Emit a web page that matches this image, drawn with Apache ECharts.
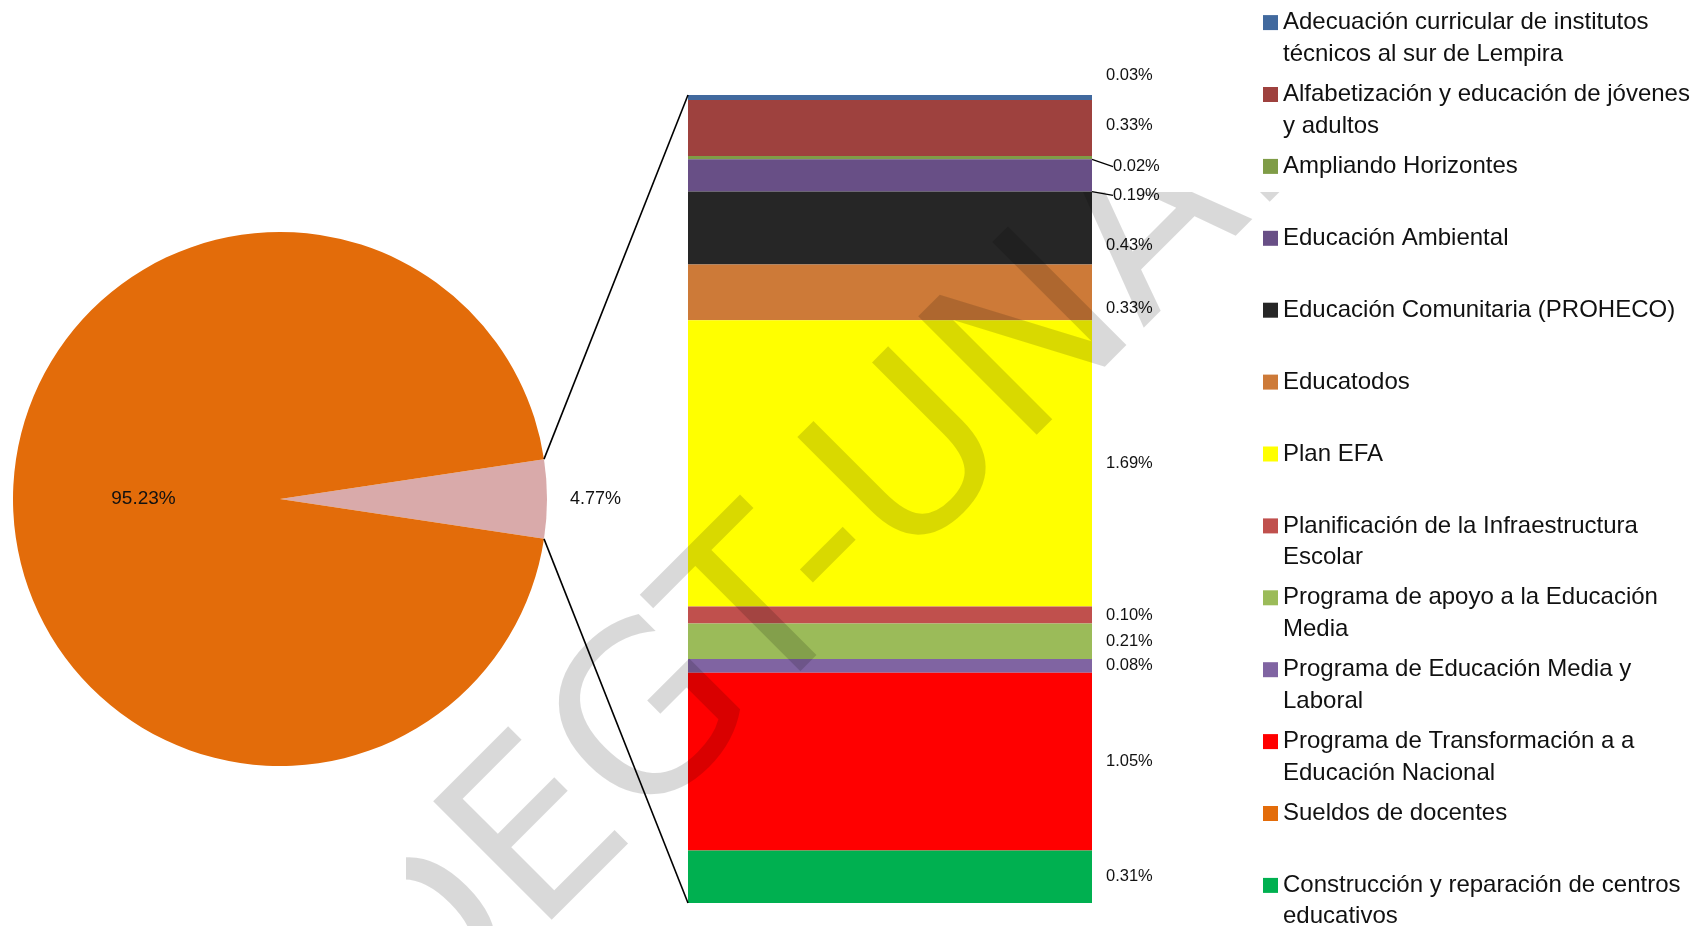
<!DOCTYPE html>
<html>
<head>
<meta charset="utf-8">
<title>Presupuesto de educación</title>
<script src="https://cdn.jsdelivr.net/npm/echarts@6/dist/echarts.min.js"></script>
<style>
html, body { margin: 0; padding: 0; background: #fff; }
#main { width: 1699px; height: 926px; }
</style>
</head>
<body>
<div id="main"></div>
<script>
// programas de la barra, de arriba hacia abajo (% del presupuesto total)
var barNames = ['Adecuación curricular de institutos técnicos al sur de Lempira', 'Alfabetización y educación de jóvenes y adultos', 'Ampliando Horizontes', 'Educación Ambiental', 'Educación Comunitaria (PROHECO)', 'Educatodos', 'Plan EFA', 'Planificación de la Infraestructura Escolar', 'Programa de apoyo a la Educación Media', 'Programa de Educación Media y Laboral', 'Programa de Transformación a a Educación Nacional', 'Construcción y reparación de centros educativos'];
var barValues = [0.03, 0.33, 0.02, 0.19, 0.43, 0.33, 1.69, 0.10, 0.21, 0.08, 1.05, 0.31];
var barColors = ['#41699E', '#9E413E', '#7F9C47', '#684F86', '#262626', '#CD7A38', '#FFFF00', '#C0504D', '#9BBB59', '#8064A2', '#FF0000', '#00B050'];

// la porción grande del pastel
var pieName = 'Sueldos de docentes';
var pieValue = 95.23;
var pieColor = '#E36C0A';
var otherName = 'Otros';
var otherColor = '#D9AAAA';

// orden y texto (con saltos de línea) de la leyenda
var legendOrder = ['Adecuación curricular de institutos técnicos al sur de Lempira', 'Alfabetización y educación de jóvenes y adultos', 'Ampliando Horizontes', 'Educación Ambiental', 'Educación Comunitaria (PROHECO)', 'Educatodos', 'Plan EFA', 'Planificación de la Infraestructura Escolar', 'Programa de apoyo a la Educación Media', 'Programa de Educación Media y Laboral', 'Programa de Transformación a a Educación Nacional', 'Sueldos de docentes', 'Construcción y reparación de centros educativos'];
var legendText = ['Adecuación curricular de institutos\ntécnicos al sur de Lempira', 'Alfabetización y educación de jóvenes\ny adultos', 'Ampliando Horizontes', 'Educación Ambiental', 'Educación Comunitaria (PROHECO)', 'Educatodos', 'Plan EFA', 'Planificación de la Infraestructura\nEscolar', 'Programa de apoyo a la Educación\nMedia', 'Programa de Educación Media y\nLaboral', 'Programa de Transformación a a\nEducación Nacional', 'Sueldos de docentes', 'Construcción y reparación de centros\neducativos'];

var watermark = 'DEGT-UNAH';

var font = '"Liberation Sans", Arial, sans-serif';
var pieCenter = [280, 499];
var pieRadius = 267;
var barGrid = {left: 688, top: 95, width: 404, height: 808};

var total = 0;
for (var i = 0; i < barValues.length; i++) {
	total += barValues[i];
}
total = Math.round(total * 100) / 100;

function pct(p) {
	return p.value.toFixed(2) + '%';
}

var chart = echarts.init(document.getElementById('main'));

// etiquetas que en el original fueron movidas a mano
var labelShift = {0: [0, -22], 1: [0, -3], 2: [7, 9], 3: [7, 20], 4: [0, 17], 5: [0, 16]};
var leader = {2: true, 3: true};

var series = [{
	type: 'pie',
	center: pieCenter,
	radius: pieRadius,
	startAngle: total / (total + pieValue) * 180,
	clockwise: true,
	silent: true,
	label: {color: '#111', fontFamily: font, fontSize: 19, formatter: pct},
	labelLine: {show: false, length: 10, length2: 8},
	data: [
		{name: otherName, value: total, itemStyle: {color: otherColor}, label: {position: 'outside', fontSize: 18}},
		{name: pieName, value: pieValue, itemStyle: {color: pieColor}, label: {position: 'inside'}}
	]
}];

for (var i = 0; i < barNames.length; i++) {
	var s = {
		type: 'bar',
		name: barNames[i],
		stack: 'otros',
		barWidth: '100%',
		data: [barValues[i]],
		itemStyle: {color: barColors[i]},
		label: {show: true, position: 'right', distance: 14, color: '#111', fontFamily: font, fontSize: 16.5, formatter: pct}
	};
	if (labelShift[i]) {
		s.labelLayout = {dx: labelShift[i][0], dy: labelShift[i][1]};
	}
	if (leader[i]) {
		s.labelLine = {show: true, lineStyle: {color: '#000', width: 1.2}};
	}
	series.push(s);
}

// marca de agua, recortada como en el original
series.push({
	type: 'custom',
	coordinateSystem: 'none',
	silent: true,
	z: 20,
	data: [0],
	renderItem: function () {
		return {
			type: 'group',
			clipPath: {type: 'rect', shape: {x: 406, y: 192, width: 1293, height: 734}},
			children: [{
				type: 'text',
				x: 851, y: 536,
				rotation: Math.PI / 4,
				style: {
					text: watermark, x: 0, y: 0,
					align: 'center', verticalAlign: 'middle',
					font: '230px "DejaVu Sans", sans-serif',
					fill: 'rgba(0,0,0,0.15)'
				}
			}]
		};
	}
});

chart.setOption({
	animation: false,
	backgroundColor: '#fff',
	grid: barGrid,
	xAxis: {type: 'category', data: ['otros'], show: false},
	yAxis: {type: 'value', min: 0, max: total, inverse: true, show: false},
	legend: {
		orient: 'vertical',
		left: 1263,
		top: -24.5,
		height: 1200,
		padding: 0,
		itemWidth: 15,
		itemHeight: 15,
		itemGap: -22.3,
		icon: 'rect',
		selectedMode: false,
		data: legendOrder,
		formatter: function (name) {
			var t = legendText[legendOrder.indexOf(name)] || name;
			// siempre tres líneas para que el cuadro quede junto a la primera
			return ' \n' + t + (t.indexOf('\n') < 0 ? '\n ' : '');
		},
		textStyle: {fontFamily: font, fontSize: 24, lineHeight: 31.4, color: '#111'}
	},
	series: series
});

// líneas que unen la porción "otros" con la barra
var half = total / (total + pieValue) * Math.PI;
var ex = pieCenter[0] + pieRadius * Math.cos(half);
var eyTop = pieCenter[1] - pieRadius * Math.sin(half);
var eyBot = pieCenter[1] + pieRadius * Math.sin(half);
var barTop = chart.convertToPixel({yAxisIndex: 0}, 0);
var barBot = chart.convertToPixel({yAxisIndex: 0}, total);
var barLeft = chart.convertToPixel({xAxisIndex: 0}, 'otros') - barGrid.width / 2;

chart.setOption({
	graphic: [
		{type: 'line', z: 50, shape: {x1: ex, y1: eyTop, x2: barLeft, y2: barTop}, style: {stroke: '#000', lineWidth: 1.6}},
		{type: 'line', z: 50, shape: {x1: ex, y1: eyBot, x2: barLeft, y2: barBot}, style: {stroke: '#000', lineWidth: 1.6}}
	]
});
</script>
</body>
</html>
